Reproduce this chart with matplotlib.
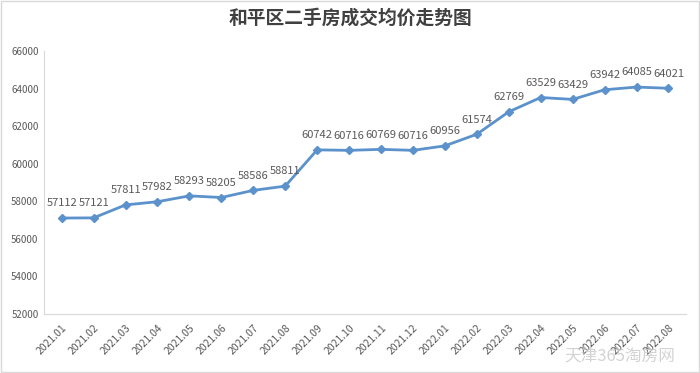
import matplotlib.pyplot as plt
from matplotlib.patches import Rectangle

plt.rcParams['font.family'] = ['Noto Sans CJK SC', 'DejaVu Sans']

months = ['2021.01', '2021.02', '2021.03', '2021.04', '2021.05', '2021.06', '2021.07',
          '2021.08', '2021.09', '2021.10', '2021.11', '2021.12', '2022.01', '2022.02',
          '2022.03', '2022.04', '2022.05', '2022.06', '2022.07', '2022.08']
prices = [57112, 57121, 57811, 57982, 58293, 58205, 58586, 58811, 60742, 60716,
          60769, 60716, 60956, 61574, 62769, 63529, 63429, 63942, 64085, 64021]
yticks = list(range(52000, 66001, 2000))

fig = plt.figure(figsize=(7, 3.73), dpi=100)
ax = fig.add_axes([0.063, 0.158, 0.917, 0.705])

x = list(range(len(months)))
ax.plot(x, prices, color='#5b92cc', linewidth=2, marker='D', markersize=4.5,
        markerfacecolor='#5b92cc', markeredgecolor='#5b92cc')
for xi, v in zip(x, prices):
    ax.annotate(str(v), (xi, v), xytext=(0, 7), textcoords='offset points',
                ha='center', va='bottom', fontsize=8, color='#595959')

ax.set_xlim(-0.55, len(months) - 0.45)
ax.set_ylim(52000, 66000)
ax.set_yticks(yticks)
ax.set_yticklabels([str(t) for t in yticks], fontsize=7, color='#595959')
ax.set_xticks(x)
ax.set_xticklabels(months, rotation=45, ha='right', rotation_mode='anchor',
                   fontsize=7.5, color='#595959')
ax.tick_params(length=0, pad=4)
ax.tick_params(axis='x', pad=6)
for s in ['top', 'right']:
    ax.spines[s].set_visible(False)
ax.spines['left'].set_color('#d9d9d9')
ax.spines['bottom'].set_color('#d9d9d9')

fig.text(0.5, 0.952, '和平区二手房成交均价走势图', ha='center', va='center',
         fontsize=13.5, fontweight='bold', color='#404040')
fig.text(0.965, 0.045, '天津365淘房网', ha='right', va='center', fontsize=12,
         color='#c8c8c8', alpha=0.8)
fig.patches.append(Rectangle((0.002, 0.003), 0.996, 0.994, transform=fig.transFigure,
                             fill=False, edgecolor='#d9d9d9', linewidth=1))

fig.savefig('out.png', dpi=100)
